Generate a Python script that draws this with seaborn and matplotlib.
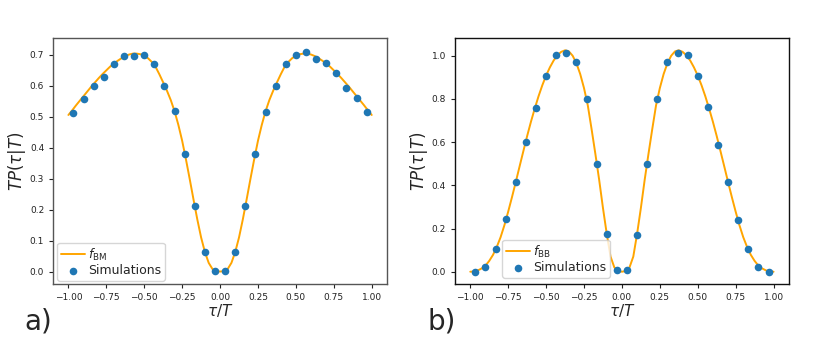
import matplotlib
matplotlib.use("Agg")
import matplotlib.pyplot as plt
import pandas as pd
import seaborn as sns

# simulation sample positions (tau/T)
TAU_SIM = [-0.967, -0.900, -0.833, -0.767, -0.700, -0.633, -0.567, -0.500, -0.433, -0.367,
           -0.300, -0.233, -0.167, -0.100, -0.033, 0.033, 0.100, 0.167, 0.233, 0.300,
           0.367, 0.433, 0.500, 0.567, 0.633, 0.700, 0.767, 0.833, 0.900, 0.967]

SIM_BM = [0.512, 0.557, 0.597, 0.629, 0.671, 0.696, 0.696, 0.700, 0.670, 0.600,
          0.517, 0.380, 0.211, 0.063, 0.002, 0.002, 0.063, 0.211, 0.379, 0.515,
          0.600, 0.670, 0.698, 0.707, 0.685, 0.673, 0.639, 0.591, 0.560, 0.515]

SIM_BB = [0.000, 0.022, 0.105, 0.243, 0.415, 0.599, 0.756, 0.907, 1.003, 1.013,
          0.970, 0.798, 0.500, 0.173, 0.007, 0.007, 0.170, 0.500, 0.799, 0.972,
          1.013, 1.003, 0.906, 0.764, 0.588, 0.415, 0.240, 0.105, 0.020, 0.000]

TAU_CURVE = [-1.000, -0.975, -0.950, -0.925, -0.900, -0.875, -0.850, -0.825, -0.800, -0.775,
             -0.750, -0.725, -0.700, -0.675, -0.650, -0.625, -0.600, -0.575, -0.550, -0.525,
             -0.500, -0.475, -0.450, -0.425, -0.400, -0.375, -0.350, -0.325, -0.300, -0.275,
             -0.250, -0.225, -0.200, -0.175, -0.150, -0.125, -0.100, -0.075, -0.050, -0.025,
             0.000,
             0.025, 0.050, 0.075, 0.100, 0.125, 0.150, 0.175, 0.200, 0.225, 0.250,
             0.275, 0.300, 0.325, 0.350, 0.375, 0.400, 0.425, 0.450, 0.475, 0.500,
             0.525, 0.550, 0.575, 0.600, 0.625, 0.650, 0.675, 0.700, 0.725, 0.750,
             0.775, 0.800, 0.825, 0.850, 0.875, 0.900, 0.925, 0.950, 0.975, 1.000]

F_BM = [0.505, 0.520, 0.536, 0.551, 0.566, 0.581, 0.596, 0.610, 0.624, 0.637,
        0.649, 0.661, 0.671, 0.680, 0.688, 0.695, 0.700, 0.703, 0.703, 0.701,
        0.696, 0.688, 0.676, 0.660, 0.636, 0.610, 0.583, 0.553, 0.517, 0.473,
        0.422, 0.362, 0.298, 0.232, 0.168, 0.110, 0.063, 0.028, 0.008, 0.001,
        0.000,
        0.001, 0.008, 0.028, 0.063, 0.110, 0.168, 0.232, 0.298, 0.362, 0.422,
        0.473, 0.517, 0.553, 0.583, 0.610, 0.636, 0.660, 0.676, 0.688, 0.696,
        0.701, 0.703, 0.703, 0.700, 0.695, 0.688, 0.680, 0.671, 0.661, 0.649,
        0.637, 0.624, 0.610, 0.596, 0.581, 0.566, 0.551, 0.536, 0.520, 0.505]

F_BB = [0.000, 0.001, 0.006, 0.015, 0.028, 0.050, 0.078, 0.115, 0.160, 0.215,
        0.278, 0.345, 0.415, 0.487, 0.558, 0.628, 0.694, 0.755, 0.812, 0.863,
        0.908, 0.946, 0.978, 1.002, 1.018, 1.025, 1.020, 1.000, 0.965, 0.915,
        0.850, 0.770, 0.660, 0.545, 0.425, 0.295, 0.175, 0.070, 0.020, 0.003,
        0.000,
        0.003, 0.020, 0.070, 0.175, 0.295, 0.425, 0.545, 0.660, 0.770, 0.850,
        0.915, 0.965, 1.000, 1.020, 1.025, 1.018, 1.002, 0.978, 0.946, 0.908,
        0.863, 0.812, 0.755, 0.694, 0.628, 0.558, 0.487, 0.415, 0.345, 0.278,
        0.215, 0.160, 0.115, 0.078, 0.050, 0.028, 0.015, 0.006, 0.001, 0.000]

X_TICKS = [-1.00, -0.75, -0.50, -0.25, 0.00, 0.25, 0.50, 0.75, 1.00]

sns.set_style("ticks")
plt.rcParams["font.family"] = ["DejaVu Sans"]
plt.rcParams["mathtext.fontset"] = "dejavusans"

BLUE = "#1f77b4"
ORANGE = "orange"


def draw_panel(ax, curve, sims, name, yticks, ylim, leg_anchor, spine_color):
    curve_df = pd.DataFrame({"tau": TAU_CURVE, "f": curve})
    sim_df = pd.DataFrame({"tau": TAU_SIM, "p": sims})
    sns.lineplot(data=curve_df, x="tau", y="f", color=ORANGE, linewidth=1.4,
                 label=rf"$f_{{\rm {name}}}$", ax=ax, zorder=2)
    sns.scatterplot(data=sim_df, x="tau", y="p", color=BLUE, s=30, linewidth=0,
                    label="Simulations", ax=ax, zorder=3)
    ax.set_xlim(-1.1, 1.1)
    ax.set_ylim(*ylim)
    ax.set_xticks(X_TICKS)
    ax.set_yticks(yticks)
    ax.tick_params(labelsize=6.5, length=3, width=0.8, colors="#222222")
    for sp in ax.spines.values():
        sp.set_visible(True)
        sp.set_color(spine_color)
        sp.set_linewidth(1.0)
    ax.set_xlabel(r"$\tau/T$", fontsize=11, labelpad=0)
    ax.set_ylabel(r"$TP(\tau|T)$", fontsize=12, labelpad=1)
    ax.legend(loc="lower left", bbox_to_anchor=leg_anchor, borderaxespad=0,
              fontsize=9, handlelength=1.9, handletextpad=0.25, labelspacing=0.1,
              borderpad=0.3, framealpha=0.8, edgecolor="#cccccc")


fig = plt.figure(figsize=(8.32, 3.4), dpi=100)
ax_a = fig.add_axes([0.064, 0.164, 0.401, 0.723])
ax_b = fig.add_axes([0.547, 0.164, 0.401, 0.723])

draw_panel(ax_a, F_BM, SIM_BM, "BM", [0.0, 0.1, 0.2, 0.3, 0.4, 0.5, 0.6, 0.7],
           (-0.041, 0.752), (0.012, 0.015), "#555555")
draw_panel(ax_b, F_BB, SIM_BB, "BB", [0.0, 0.2, 0.4, 0.6, 0.8, 1.0],
           (-0.058, 1.080), (0.141, 0.027), "#111111")

fig.text(0.029, 0.03, "a)", fontsize=20)
fig.text(0.514, 0.03, "b)", fontsize=20)

fig.savefig("out.png", dpi=100)
